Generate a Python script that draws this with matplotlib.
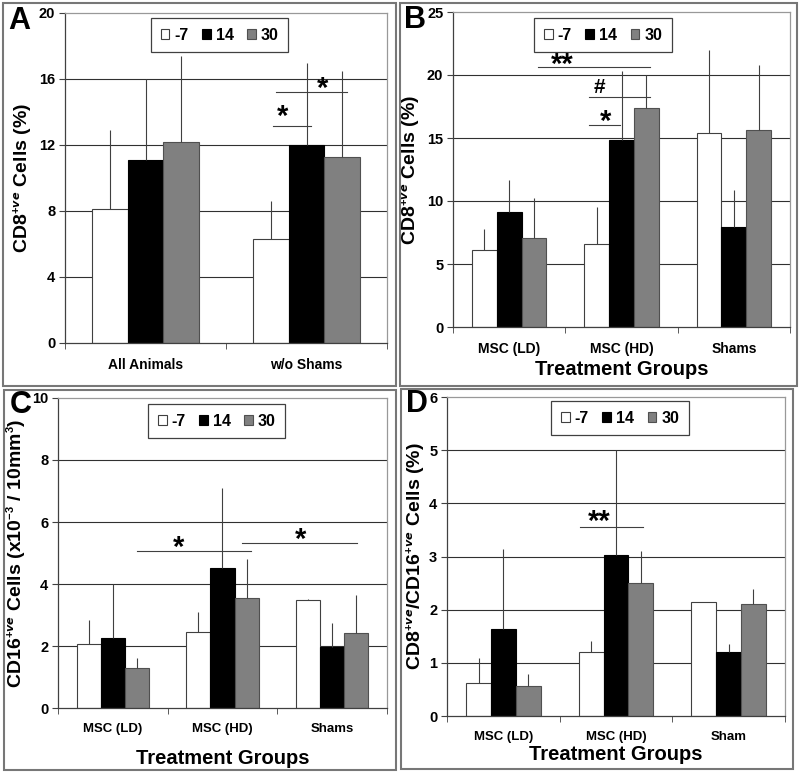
import numpy as np
import matplotlib
matplotlib.use('Agg')
import matplotlib.pyplot as plt
import matplotlib._mathtext as mathtext_internal
from matplotlib.patches import Rectangle

plt.rcParams['font.family'] = ['Liberation Sans', 'DejaVu Sans']
plt.rcParams['font.weight'] = 'bold'
plt.rcParams['mathtext.fontset'] = 'custom'
plt.rcParams['mathtext.rm'] = 'Liberation Sans:bold'
plt.rcParams['mathtext.bf'] = 'Liberation Sans:bold'
# smaller superscripts, like the original figure
mathtext_internal.SHRINK_FACTOR = 0.58

# ---- data ----
days = ['-7', '14', '30']

a_groups = ['All Animals', 'w/o Shams']
a_m7 = [8.1, 6.3]
a_d14 = [11.1, 12.0]
a_d30 = [12.2, 11.3]
a_e7 = [4.8, 2.3]
a_e14 = [4.9, 5.0]
a_e30 = [5.2, 5.2]

b_groups = ['MSC (LD)', 'MSC (HD)', 'Shams']
b_m7 = [6.1, 6.55, 15.4]
b_d14 = [9.15, 14.85, 7.9]
b_d30 = [7.05, 17.4, 15.65]
b_e7 = [1.65, 3.0, 6.55]
b_e14 = [2.5, 5.5, 3.0]
b_e30 = [3.15, 2.6, 5.15]

c_groups = ['MSC (LD)', 'MSC (HD)', 'Shams']
c_m7 = [2.07, 2.46, 3.49]
c_d14 = [2.27, 4.51, 1.97]
c_d30 = [1.30, 3.55, 2.43]
c_e7 = [0.78, 0.65, 0.03]
c_e14 = [1.72, 2.6, 0.77]
c_e30 = [0.32, 1.25, 1.23]

d_groups = ['MSC (LD)', 'MSC (HD)', 'Sham']
d_m7 = [0.63, 1.21, 2.15]
d_d14 = [1.64, 3.02, 1.21]
d_d30 = [0.57, 2.50, 2.10]
d_e7 = [0.47, 0.2, 0.0]
d_e14 = [1.5, 1.98, 0.14]
d_e30 = [0.22, 0.61, 0.29]

# significance brackets: (x0, x1, y_line, label, x_text, gap above line in px)
a_sig = [(0.79, 1.03, 13.13, '*', 0.85, 10), (0.81, 1.25, 15.23, '*', 1.10, 3)]
b_sig = [(0.26, 1.25, 20.6, '**', 0.47, 3), (0.71, 1.25, 18.24, '#', 0.80, 4),
         (0.71, 0.99, 16.0, '*', 0.86, 4)]
c_sig = [(0.22, 1.26, 5.08, '*', 0.60, 3), (1.18, 2.23, 5.31, '*', 1.71, 4)]
d_sig = [(0.68, 1.24, 3.55, '**', 0.85, 5)]

W, H = 800, 776
fig = plt.figure(figsize=(W / 100, H / 100), dpi=100)

# panel frames
for x0, y0, x1, y1 in [(3, 3, 396, 386), (400, 3, 797, 386), (4, 390, 396, 770), (401, 389, 793, 769)]:
    fig.patches.append(Rectangle((x0 / W, 1 - y1 / H), (x1 - x0) / W, (y1 - y0) / H,
                                 transform=fig.transFigure, fill=False,
                                 edgecolor='#777777', lw=1.5))


def panel(box, groups, means, errs, ymax, ystep, ylabel, sig, letter, letter_xy,
          leg_anchor, xlabel=None, xlabel_pad=4, ylabel_pad=3, xtick_size=10):
    x0, y0, x1, y1 = box
    ax = fig.add_axes([x0 / W, 1 - y1 / H, (x1 - x0) / W, (y1 - y0) / H])
    x = np.arange(len(groups))
    w = 0.22
    faces = ['white', 'black', '#808080']
    edges = ['#404040', 'black', '#505050']
    handles = []
    for i in range(3):
        b = ax.bar(x + (i - 1) * w, means[i], w, color=faces[i], edgecolor=edges[i],
                   lw=0.8, zorder=2, label=days[i])
        handles.append(b)
        ax.errorbar(x + (i - 1) * w, means[i], yerr=[np.zeros(len(x)), errs[i]],
                    fmt='none', ecolor='#404040', elinewidth=0.8, capsize=0, zorder=3)
    ax.set_xlim(-0.5, len(groups) - 0.5)
    ax.set_ylim(0, ymax)
    ticks = np.arange(0, ymax + 0.01, ystep)
    ax.set_yticks(ticks)
    ax.set_yticklabels([f'{t:g}' for t in ticks])
    for t in ticks[1:-1]:
        ax.axhline(t, color='#303030', lw=0.8, zorder=1)
    ax.set_xticks(x)
    ax.set_xticklabels(groups)
    ax.set_xticks(np.arange(len(groups) + 1) - 0.5, minor=True)
    ax.tick_params(axis='x', which='major', length=0, pad=11, labelsize=xtick_size)
    ax.tick_params(axis='x', which='minor', length=4, color='#404040', direction='out')
    ax.tick_params(axis='y', length=4, color='#404040', labelsize=10.5, pad=3)
    ax.spines['top'].set_color('#999999')
    ax.spines['right'].set_color('#999999')
    ax.spines['left'].set_color('#404040')
    ax.spines['bottom'].set_color('#404040')
    for s in ax.spines.values():
        s.set_linewidth(0.9)
    ax.set_ylabel(ylabel, fontsize=14, fontweight='bold', labelpad=ylabel_pad)
    if xlabel:
        ax.set_xlabel(xlabel, fontsize=14.5, fontweight='bold', labelpad=xlabel_pad)
    for (sx0, sx1, sy, lab, tx, gap) in sig:
        ax.plot([sx0, sx1], [sy, sy], color='#404040', lw=0.8, zorder=4)
        if lab == '#':
            fs, dy = 15, gap
        else:
            fs = 21
            dy = gap - 0.28 * fs * 100 / 72   # asterisk sits high above its baseline
        ax.annotate(lab, (tx, sy), xytext=(0, dy), textcoords='offset pixels',
                    fontsize=fs, fontweight='bold', ha='center', va='baseline',
                    zorder=5)
    leg = ax.legend(handles=handles, loc='upper center', bbox_to_anchor=leg_anchor,
                    borderaxespad=0, ncol=3, frameon=True, fancybox=False,
                    edgecolor='#404040', fontsize=11.5, handlelength=0.55,
                    handleheight=0.55, handletextpad=0.3, columnspacing=0.85,
                    borderpad=0.6, framealpha=1)
    leg.get_frame().set_linewidth(0.9)
    leg.set_zorder(3.5)
    fig.text(letter_xy[0] / W, 1 - letter_xy[1] / H, letter, fontsize=22,
             fontweight='bold', ha='left', va='top')
    return ax


panel((65, 13, 387, 343), a_groups, [a_m7, a_d14, a_d30], [a_e7, a_e14, a_e30],
      20, 4, r'CD8$^{+ve}$ Cells (%)', a_sig, 'A', (8, 6), (0.48, 0.985))
panel((453, 12, 790, 327), b_groups, [b_m7, b_d14, b_d30], [b_e7, b_e14, b_e30],
      25, 5, r'CD8$^{+ve}$ Cells (%)', b_sig, 'B', (404, 5), (0.445, 0.981),
      xlabel='Treatment Groups', xlabel_pad=3)
panel((58, 398, 387, 708), c_groups, [c_m7, c_d14, c_d30], [c_e7, c_e14, c_e30],
      10, 2, r'CD16$^{+ve}$ Cells (x10$^{-3}$ / 10mm$^{3}$)', c_sig, 'C', (10, 390),
      (0.483, 0.98), xlabel='Treatment Groups', xlabel_pad=10, ylabel_pad=2,
      xtick_size=9.5)
panel((447, 397, 785, 716), d_groups, [d_m7, d_d14, d_d30], [d_e7, d_e14, d_e30],
      6, 1, r'CD8$^{+ve}$/CD16$^{+ve}$ Cells (%)', d_sig, 'D', (406, 389),
      (0.512, 0.987), xlabel='Treatment Groups', xlabel_pad=1, ylabel_pad=1,
      xtick_size=9.5)

fig.savefig('out.png', dpi=100)
